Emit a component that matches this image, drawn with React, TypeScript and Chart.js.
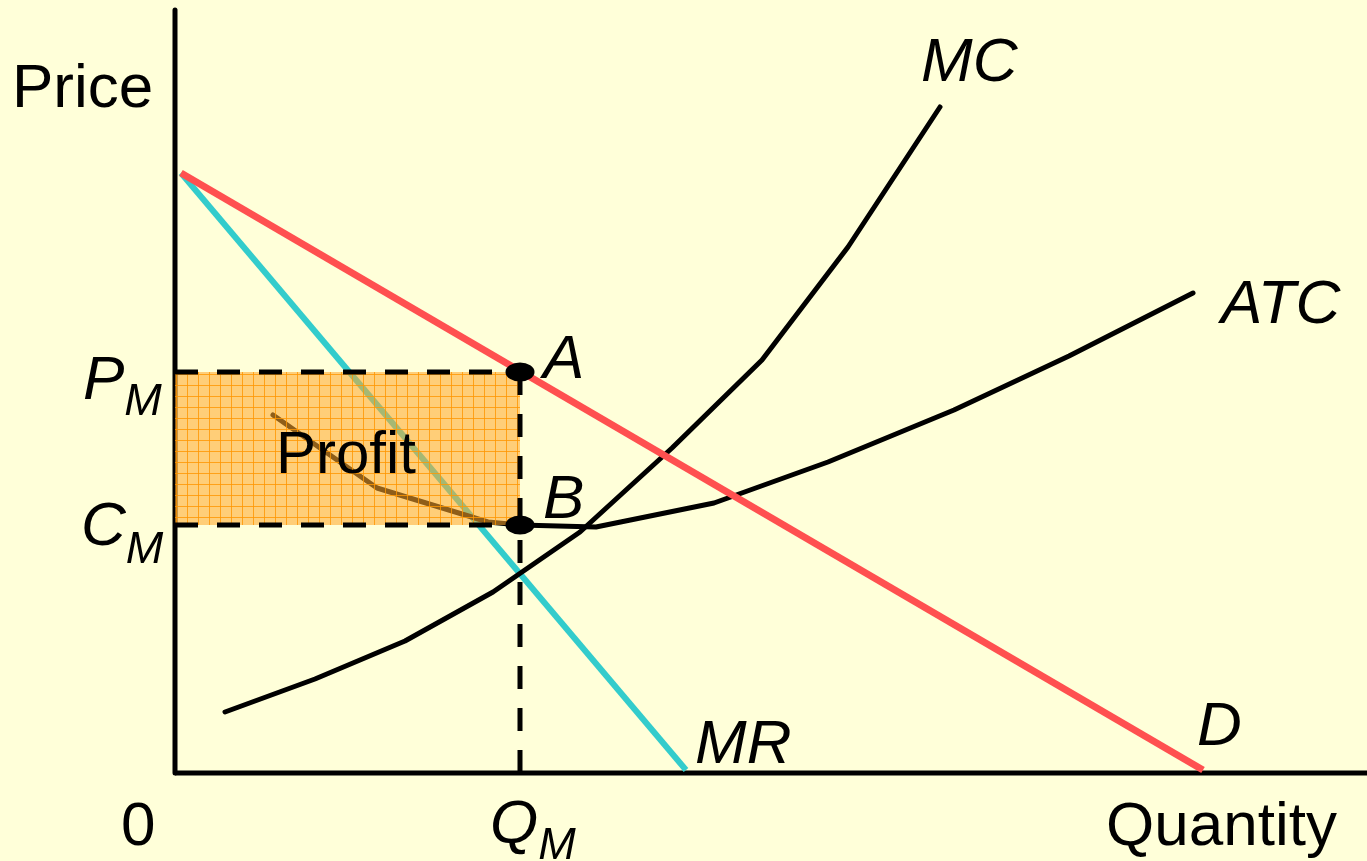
import React, { useEffect, useRef } from "react";
import { Chart, registerables } from "chart.js";

Chart.register(...registerables);

// Data (quantity / price units; 0 at the axes origin)
const demandQ = [0.6, 102.8];
const demandP = [60.0, 0.3];
const mrQ = [0.6, 51.1];
const mrP = [60.0, 0.3];
const mcQ = [5.0, 14.0, 23.0, 31.8, 40.5, 49.7, 58.7, 67.3, 76.5];
const mcP = [6.1, 9.4, 13.2, 18.1, 24.1, 32.5, 41.3, 52.6, 66.6];
const atcQ = [9.8, 20.2, 31.3, 34.5, 42.1, 53.9, 65.3, 77.9, 89.4, 101.8];
const atcP = [35.8, 28.5, 25.1, 24.8, 24.6, 27.0, 31.1, 36.3, 41.7, 48.0];
const QM = 34.5;
const PM = 40.1;
const CM = 24.8;
const axisQMax = 119.5;
const axisPMax = 76.3;

const pts = (xs: number[], ys: number[]) => xs.map((x, i) => ({ x, y: ys[i] }));

const FONT = '"Liberation Sans", Arial, Helvetica, sans-serif';

type Label = { parts: { t: string; size: number; italic?: boolean; dy?: number }[]; x: number; y: number };

const labels: Label[] = [
  { parts: [{ t: "Price", size: 62 }], x: -16.3, y: 66.6 },
  { parts: [{ t: "MC", size: 62, italic: true }], x: 74.6, y: 69.2 },
  { parts: [{ t: "ATC", size: 62, italic: true }], x: 104.6, y: 45.0 },
  { parts: [{ t: "A", size: 62, italic: true }], x: 36.8, y: 39.5 },
  { parts: [{ t: "B", size: 62, italic: true }], x: 36.8, y: 25.5 },
  { parts: [{ t: "MR", size: 62, italic: true }], x: 52.0, y: 1.0 },
  { parts: [{ t: "D", size: 62, italic: true }], x: 102.2, y: 2.8 },
  { parts: [{ t: "Quantity", size: 62 }], x: 93.1, y: -7.2 },
  { parts: [{ t: "0", size: 62 }], x: -5.4, y: -7.2 },
  { parts: [{ t: "Profit", size: 60 }], x: 10.1, y: 30.0 },
  {
    parts: [
      { t: "Q", size: 62, italic: true },
      { t: "M", size: 45, italic: true, dy: 16 },
    ],
    x: 31.5,
    y: -7.0,
  },
  {
    parts: [
      { t: "P", size: 62, italic: true },
      { t: "M", size: 45, italic: true, dy: 16 },
    ],
    x: -9.2,
    y: 37.4,
  },
  {
    parts: [
      { t: "C", size: 62, italic: true },
      { t: "M", size: 45, italic: true, dy: 18 },
    ],
    x: -9.4,
    y: 22.8,
  },
];

function makePattern(): CanvasPattern | string {
  const c = document.createElement("canvas");
  c.width = 11;
  c.height = 11;
  const g = c.getContext("2d");
  if (!g) return "rgba(255,168,45,0.58)";
  g.fillStyle = "rgba(255,168,45,0.56)";
  g.fillRect(0, 0, 11, 11);
  g.fillStyle = "rgba(255,150,0,0.8)";
  g.fillRect(0, 0, 11, 1);
  g.fillRect(0, 0, 1, 11);
  const ctx = document.createElement("canvas").getContext("2d");
  const p = ctx ? ctx.createPattern(c, "repeat") : null;
  return p || "rgba(255,168,45,0.58)";
}

function makeDot(): HTMLCanvasElement {
  const c = document.createElement("canvas");
  c.width = 30;
  c.height = 20;
  const g = c.getContext("2d");
  if (g) {
    g.fillStyle = "#000";
    g.beginPath();
    g.ellipse(15, 10, 14.5, 9.5, 0, 0, Math.PI * 2);
    g.fill();
  }
  return c;
}

const textPlugin = {
  id: "econLabels",
  afterDatasetsDraw(chart: any) {
    const { ctx, scales } = chart;
    ctx.save();
    ctx.fillStyle = "#000";
    ctx.textBaseline = "alphabetic";
    ctx.textAlign = "left";
    for (const l of labels) {
      let px = scales.x.getPixelForValue(l.x);
      const py = scales.y.getPixelForValue(l.y);
      for (const p of l.parts) {
        ctx.font = `${p.italic ? "italic " : ""}${p.size}px ${FONT}`;
        ctx.fillText(p.t, px, py + (p.dy || 0));
        px += ctx.measureText(p.t).width;
      }
    }
    ctx.restore();
  },
};

const bgPlugin = {
  id: "bg",
  beforeDraw(chart: any) {
    const { ctx, width, height } = chart;
    ctx.save();
    ctx.fillStyle = "#FFFFD9";
    ctx.fillRect(0, 0, width, height);
    ctx.restore();
  },
};

export default function App() {
  const ref = useRef<HTMLCanvasElement | null>(null);
  useEffect(() => {
    if (!ref.current) return;
    const pattern = makePattern();
    const dot = makeDot();
    const line = (data: any, color: string, width: number, order: number, extra: any = {}) => ({
      data,
      showLine: true,
      borderColor: color,
      borderWidth: width,
      pointRadius: 0,
      pointHoverRadius: 0,
      fill: false,
      tension: 0,
      borderJoinStyle: "round",
      borderCapStyle: "butt",
      clip: false,
      order,
      ...extra,
    });
    const chart = new Chart(ref.current, {
      type: "scatter",
      data: {
        datasets: [
          line([{ x: 0, y: 0 }, { x: 0, y: axisPMax }], "#000", 5, 20, { borderCapStyle: "round" }),
          line([{ x: 0, y: 0 }, { x: axisQMax, y: 0 }], "#000", 5, 19),
          line(pts(mcQ, mcP), "#000", 5, 10, { borderCapStyle: "round" }),
          line(pts(atcQ, atcP), "#000", 5, 11, { borderCapStyle: "round" }),
          line(pts(demandQ, demandP), "#FF5050", 7, 9),
          line(pts(mrQ, mrP), "#33CCCC", 6, 12),
          line([{ x: 0, y: PM }, { x: QM, y: PM }], "#000", 5, 3, {
            borderDash: [23, 19],
            fill: "+1",
            backgroundColor: pattern,
          }),
          line([{ x: 0, y: CM }, { x: QM, y: CM }], "#000", 5, 2, { borderDash: [23, 19] }),
          line([{ x: QM, y: PM }, { x: QM, y: 0 }], "#000", 5, 1, { borderDash: [23, 19] }),
          {
            data: [
              { x: QM, y: PM },
              { x: QM, y: CM },
            ],
            showLine: false,
            pointStyle: dot,
            pointRadius: 10,
            pointHoverRadius: 10,
            clip: false,
            order: 0,
          },
        ],
      } as any,
      options: {
        animation: false,
        responsive: false,
        devicePixelRatio: 1,
        layout: { padding: 0, autoPadding: false },
        events: [],
        plugins: {
          legend: { display: false },
          tooltip: { enabled: false },
          title: { display: false },
        },
        scales: {
          x: { type: "linear", min: -17.5, max: 119.2, display: false },
          y: { type: "linear", min: -8.8, max: 77.3, display: false },
        },
      } as any,
      plugins: [bgPlugin, textPlugin],
    });
    return () => chart.destroy();
  }, []);
  return (
    <div style={{ position: "absolute", left: 0, top: 0, width: 1367, height: 861, background: "#FFFFD9" }}>
      <canvas ref={ref} width={1367} height={861} style={{ display: "block" }} />
    </div>
  );
}
